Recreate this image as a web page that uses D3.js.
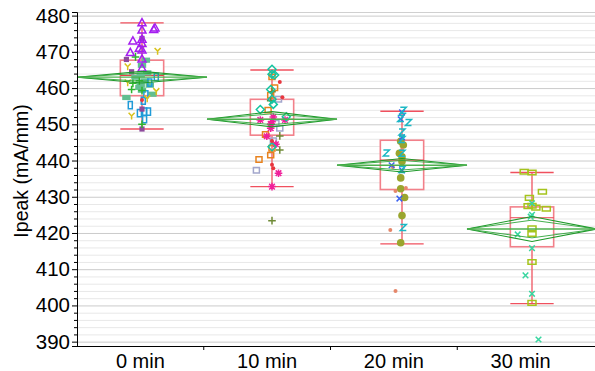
<!DOCTYPE html>
<html>
<head>
<meta charset="utf-8">
<script src="https://cdn.jsdelivr.net/npm/d3@7"></script>
<style>
  body { margin: 0; background: #fff; }
  text { font-family: "Liberation Sans", Arial, sans-serif; fill: #000; }
</style>
</head>
<body>
<svg width="595" height="371"></svg>
<script>
const groups = ["0 min", "10 min", "20 min", "30 min"];
const yTicks = [390, 400, 410, 420, 430, 440, 450, 460, 470, 480];

// box plot summaries, one entry per group
const whiskerHigh = [478.0, 465.0, 453.6, 436.7];
const q3 = [467.7, 456.9, 445.6, 427.2];
const median = [463.5, 451.4, 440.1, 424.2];
const q1 = [457.9, 447.0, 432.0, 416.2];
const whiskerLow = [448.7, 432.8, 417.0, 400.5];
// means diamonds
const means = [463.0, 451.4, 438.7, 421.1];
const ciHalf = [1.6, 2.1, 1.85, 3.45];

// points: [group index, Ipeak, jitter as fraction of the band]
const triPurple = [[0,478.0,0],[0,476.0,0],[0,476.6,0.10],[0,476.2,0.09],[0,473.0,-0.07],[0,473.5,0],
  [0,472.3,0],[0,469.8,-0.09],[0,470.5,0],[0,468.0,0],[0,465.5,0],[0,471.0,-0.02]];
const sqPurple = [[0,473.7,0],[0,467.9,-0.12],[0,464.5,-0.08],[0,454.2,0],[0,448.7,0]];
const rectGreen = [[0,467.7,0.03],[0,466.3,0],[0,464.2,0.04],[0,463.6,-0.01],[0,463.0,-0.05],[0,460.8,-0.01],
  [0,460.8,0.06],[0,460.2,-0.02],[0,459.4,0],[0,458.3,0.08],[0,457.4,-0.12],[0,462.0,0.02]];
const rectBlue = [[0,463.1,0.11],[0,461.5,0.06],[0,458.3,0.03],[0,455.3,-0.09],[0,453.5,0.02],[0,453.5,0.05],
  [0,453.1,-0.02],[0,451.4,0.02],[0,456.5,0.01]];
const yYellow = [[0,470.2,0.12],[0,470.9,0],[0,465.9,-0.11],[0,461.5,-0.11],[0,459.1,0.11],[0,457.1,0.04],[0,452.3,-0.08]];
const plusGreen = [[0,468.6,-0.05],[0,461.3,-0.07],[0,459.6,-0.08],[0,459.3,0],[0,462.0,-0.02],[0,450.0,0]];

const diamondTeal = [[1,465.2,0],[1,463.8,0],[1,463.6,0.02],[1,459.6,-0.01],[1,456.9,0],[1,454.1,-0.09],
  [1,452.1,0.11],[1,443.8,0],[1,455.5,0.01]];
const squareOrange = [[1,463.1,0],[1,460.1,0.02],[1,453.9,-0.03],[1,447.2,-0.05],[1,443.4,0],[1,441.5,-0.01],
  [1,440.3,-0.10],[1,458.0,-0.01]];
const squareLavender = [[1,456.9,0.05],[1,450.3,0.03],[1,448.9,0.06],[1,437.3,-0.12],[1,445.5,0.01]];
const starMagenta = [[1,451.2,-0.09],[1,450.7,0],[1,451.2,0.10],[1,450.1,-0.01],[1,448.9,-0.01],[1,446.7,-0.04],
  [1,444.5,0.03],[1,436.5,0.05],[1,432.8,0],[1,452.0,0.01]];
const plusOlive = [[1,459.0,0],[1,446.8,0.06],[1,442.9,0.06],[1,423.4,0],[1,456.5,-0.01]];
const dotRed = [[0,456.7,0],[1,461.7,0.06],[1,457.5,0.08],[1,438.8,0],[1,437.9,0.01],[1,445.4,0]];

const zTeal = [[2,453.9,0.01],[2,451.6,-0.01],[2,450.5,0.05],[2,447.9,0],[2,445.8,0],[2,442.1,-0.12],
  [2,442.0,0],[2,437.5,0],[2,421.5,0.01]];
const xBlue = [[2,453.3,0],[2,451.4,-0.01],[2,446.4,0],[2,438.7,-0.08],[2,437.3,0],[2,429.5,-0.02]];
const circleOlive = [[2,445.3,-0.01],[2,444.3,0.01],[2,442.0,-0.02],[2,441.0,0],[2,439.7,0],[2,435.2,-0.01],
  [2,432.2,-0.01],[2,429.8,0.02],[2,424.8,0],[2,417.3,-0.01]];
const dotSalmon = [[2,438.2,-0.07],[2,431.6,-0.05],[2,432.4,0.03],[2,420.8,-0.09],[2,404.0,-0.05],[2,443.0,0]];

const rectYellowGreen = [[3,436.9,-0.06],[3,436.7,0],[3,431.4,0.08],[3,429.7,-0.02],[3,427.4,-0.03],[3,427.5,0],
  [3,427.0,0.03],[3,426.7,0.11],[3,421.3,0],[3,419.7,0],[3,412.0,0],[3,400.7,0]];
const xAqua = [[3,428.2,0],[3,425.0,0],[3,424.5,-0.01],[3,419.6,-0.11],[3,415.8,0],[3,408.3,-0.05],
  [3,403.2,0],[3,390.6,0.05]];

const width = 595, height = 371;
const margin = { top: 12, right: 0, bottom: 25, left: 77 };
const svg = d3.select("svg");

const y = d3.scaleLinear().domain([388.8, 481]).range([height - margin.bottom, margin.top]);
// axis labels sit on a slightly narrower band than the marks (as in the source)
const xAxisScale = d3.scaleBand().domain(groups).range([margin.left, 584]);
const x = d3.scaleBand().domain(groups).range([margin.left, 597]);
const cx = i => x(groups[i]) + x.bandwidth() / 2;

// grid
const minor = d3.range(390, 481, 2);
svg.append("g").selectAll("line").data(minor).join("line")
  .attr("x1", margin.left).attr("x2", width)
  .attr("y1", d => y(d) + 0.5).attr("y2", d => y(d) + 0.5)
  .attr("stroke", d => d % 10 === 0 ? "#cbcbcb" : "#e8e8e8").attr("stroke-width", 1);
svg.append("line").attr("x1", margin.left).attr("x2", width)
  .attr("y1", margin.top + 0.5).attr("y2", margin.top + 0.5).attr("stroke", "#d0d0d0");

// boxes
const boxW = x.bandwidth() / 3;
const boxes = svg.append("g").selectAll("g").data(groups).join("g");
boxes.append("line")
  .attr("x1", (d, i) => cx(i)).attr("x2", (d, i) => cx(i))
  .attr("y1", (d, i) => y(whiskerHigh[i])).attr("y2", (d, i) => y(whiskerLow[i]))
  .attr("stroke", "#f0606c").attr("stroke-width", 1.4);
boxes.append("rect")
  .attr("x", (d, i) => cx(i) - boxW / 2).attr("width", boxW)
  .attr("y", (d, i) => y(q3[i])).attr("height", (d, i) => y(q1[i]) - y(q3[i]))
  .attr("fill", "#fff").attr("stroke", "#f2808a").attr("stroke-width", 1.6);
boxes.append("line")
  .attr("x1", (d, i) => cx(i) - boxW / 2).attr("x2", (d, i) => cx(i) + boxW / 2)
  .attr("y1", (d, i) => y(median[i])).attr("y2", (d, i) => y(median[i]))
  .attr("stroke", "#e8404c").attr("stroke-width", 1.2);
[whiskerHigh, whiskerLow].forEach(arr => {
  boxes.append("line")
    .attr("x1", (d, i) => cx(i) - boxW / 2).attr("x2", (d, i) => cx(i) + boxW / 2)
    .attr("y1", (d, i) => y(arr[i])).attr("y2", (d, i) => y(arr[i]))
    .attr("stroke", "#f0505e").attr("stroke-width", 1.4);
});

// point markers
const shapes = {
  tri: "M0,-4.2L4,3L-4,3Z",
  sqFill: "M-2.6,-2.6H2.6V2.6H-2.6Z",
  rectFill: "M-4.2,-2.6H4.2V2.6H-4.2Z",
  rectTall: "M-2,-3.6H2V3.6H-2Z",
  square: "M-3,-2.7H3V2.7H-3Z",
  rectWide: "M-4,-2.3H4V2.3H-4Z",
  yMark: "M-3,-3.2L0,0L3,-3.2M0,0V3.6",
  plus: "M-3.8,0H3.8M0,-3.8V3.8",
  diamond: "M0,-4L4,0L0,4L-4,0Z",
  star: "M-3.8,0H3.8M0,-3.8V3.8M-2.8,-2.8L2.8,2.8M-2.8,2.8L2.8,-2.8",
  zMark: "M-3,-3H3L-3,3H3",
  xMark: "M-2.8,-2.8L2.8,2.8M-2.8,2.8L2.8,-2.8"
};
const series = [
  { data: rectGreen, shape: "rectFill", color: "#62bf90", fill: true },
  { data: rectBlue, shape: "rectTall", color: "#1f9bd8" },
  { data: sqPurple, shape: "sqFill", color: "#8e4a9c", fill: true },
  { data: yYellow, shape: "yMark", color: "#d8c21c" },
  { data: plusGreen, shape: "plus", color: "#2db52d" },
  { data: triPurple, shape: "tri", color: "#a51ef0" },
  { data: squareLavender, shape: "square", color: "#a2a6cc" },
  { data: squareOrange, shape: "square", color: "#e8821e" },
  { data: plusOlive, shape: "plus", color: "#6f8a36" },
  { data: starMagenta, shape: "star", color: "#f0209a" },
  { data: diamondTeal, shape: "diamond", color: "#14c4a0" },
  { data: dotRed, shape: "dot", color: "#e8363e", r: 2 },
  { data: circleOlive, shape: "dot", color: "#9aa52e", r: 3.8 },
  { data: dotSalmon, shape: "dot", color: "#e5876a", r: 2 },
  { data: xBlue, shape: "xMark", color: "#3b62f0" },
  { data: zTeal, shape: "zMark", color: "#1bb8c4" },
  { data: rectYellowGreen, shape: "rectWide", color: "#a5c41c" },
  { data: xAqua, shape: "xMark", color: "#38d6a0" }
];
const pts = svg.append("g");
series.forEach(s => {
  const g = pts.append("g").selectAll("g").data(s.data).join("g")
    .attr("transform", d => `translate(${cx(d[0]) + d[2] * x.step()},${y(d[1])})`);
  if (s.shape === "dot") {
    g.append("circle").attr("r", s.r).attr("fill", s.color);
  } else {
    g.append("path").attr("d", shapes[s.shape])
      .attr("fill", s.fill ? s.color : "none")
      .attr("stroke", s.color).attr("stroke-width", s.fill ? 0 : 1.5);
  }
});

// means diamonds
const dia = svg.append("g").selectAll("g").data(groups).join("g");
const hw = x.bandwidth() / 2;
dia.append("path")
  .attr("d", (d, i) => {
    const c = cx(i), m = y(means[i]), h = y(means[i] - ciHalf[i]) - m;
    return `M${c - hw},${m}L${c},${m - h}L${c + hw},${m}L${c},${m + h}Z`;
  })
  .attr("fill", "none").attr("stroke", "#1f9a2a").attr("stroke-width", 1.1);
dia.append("path")
  .attr("d", (d, i) => {
    const c = cx(i), m = y(means[i]), h = (y(means[i] - ciHalf[i]) - m) / Math.SQRT2;
    return `M${c - hw},${m}L${c},${m - h}L${c + hw},${m}L${c},${m + h}Z`;
  })
  .attr("fill", "none").attr("stroke", "#2fa63a").attr("stroke-width", 0.9);
dia.append("line")
  .attr("x1", (d, i) => cx(i) - hw).attr("x2", (d, i) => cx(i) + hw)
  .attr("y1", (d, i) => y(means[i])).attr("y2", (d, i) => y(means[i]))
  .attr("stroke", "#4fb04f").attr("stroke-width", 1.3);

// axes
const yAxis = d3.axisLeft(y).tickValues(yTicks).tickSize(5).tickPadding(2);
const gy = svg.append("g").attr("transform", `translate(${margin.left},0)`).call(yAxis);
gy.selectAll("text").style("font-size", "20.5px");
gy.select(".domain").attr("stroke", "#000");
svg.append("g").attr("transform", `translate(${margin.left},0)`)
  .call(d3.axisLeft(y).tickValues(minor.filter(v => v % 10 !== 0)).tickSize(3).tickFormat(""))
  .select(".domain").remove();

const gx = svg.append("g").attr("transform", `translate(0,${height - margin.bottom})`)
  .call(d3.axisBottom(xAxisScale).tickSize(0).tickPadding(8));
gx.selectAll("text").style("font-size", "20px");
gx.select(".domain").attr("d", `M${margin.left},0.5H${width}`).attr("stroke", "#000");
gx.selectAll(".sep").data(groups.slice(1)).join("line")
  .attr("x1", d => xAxisScale(d)).attr("x2", d => xAxisScale(d))
  .attr("y1", 0).attr("y2", 4).attr("stroke", "#000");

svg.append("text")
  .attr("transform", `translate(28,${(margin.top + height - margin.bottom) / 2 - 8}) rotate(-90)`)
  .attr("text-anchor", "middle").style("font-size", "19.5px")
  .text("Ipeak (mA/mm)");
</script>
</body>
</html>
